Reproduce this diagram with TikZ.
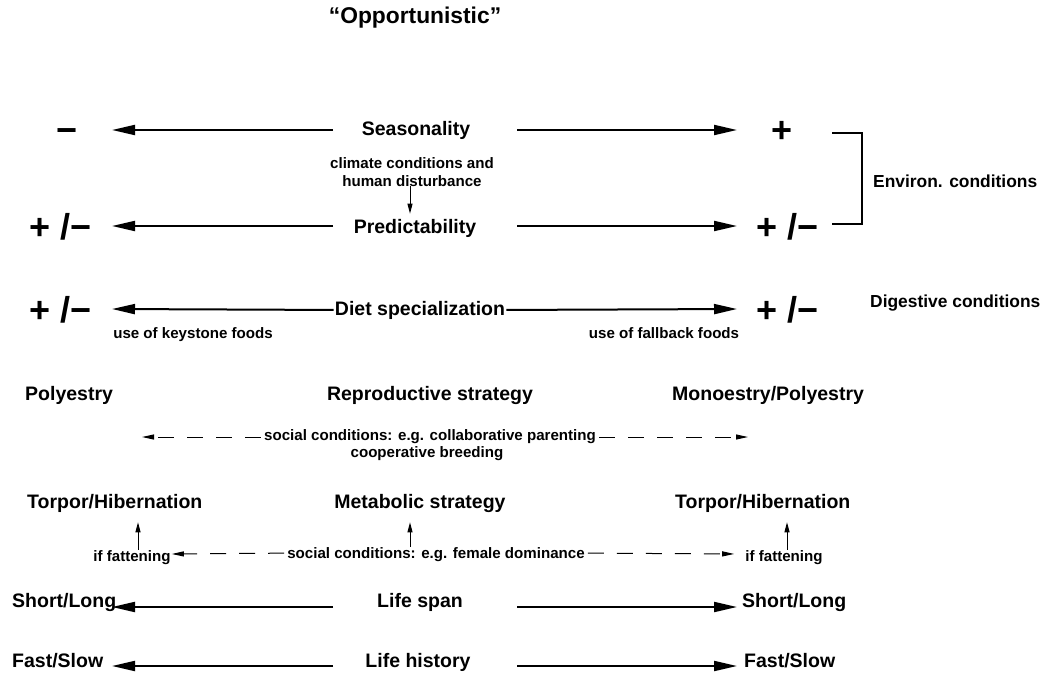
\documentclass[tikz,border=0pt]{standalone}
\usepackage{fontspec}
\setmainfont{Liberation Sans}
\usetikzlibrary{arrows.meta}
\newcommand{\mns}{\symbol{"2212}}
\tikzstyle{labels}=[%
	x = 1pt, y = -1pt,
	every node/.style = {inner sep=0pt, anchor=base},
	main/.style = {font=\fontsize{19.5}{22}\selectfont\bfseries},
	small/.style = {font=\fontsize{15.1}{17}\selectfont\bfseries, inner xsep=3pt},
	side/.style = {font=\fontsize{17.4}{20}\selectfont\bfseries, anchor=base west},
	sign/.style = {font=\fontsize{36}{40}\selectfont\bfseries},
	bigarrow/.style = {line width=2pt, -{Triangle[length=23pt,width=10pt]}},
	smallarrow/.style = {line width=1pt, -{Triangle[length=10pt,width=5pt]}},
	dasharrow/.style = {line width=1pt, dash pattern=on 16pt off 13pt, -{Triangle[length=12pt,width=5pt]}}
]

\begin{document}
\begin{tikzpicture}[labels]
	\useasboundingbox (0,0) rectangle (1059,677);

	% Title
	\node[font=\fontsize{22.8}{26}\selectfont\bfseries] (title) at (415,24) {``Opportunistic''};

	% % Middle column
	\node[main] (seas) at (416,135) {Seasonality};
	\node[main] (pred) at (415,233) {Predictability};
	\node[main, inner xsep=1pt] (diet) at (420,315) {Diet specialization};
	\node[main] (repr) at (430,400) {Reproductive strategy};
	\node[main] (meta) at (420,508) {Metabolic strategy};
	\node[main] (span) at (420,607) {Life span};
	\node[main] (hist) at (418,667) {Life history};

	% % Left column
	\node[sign] (seasL) at (67,142) {\mns};
	\node[sign] (predL) at (61,239) {+ /\mns};
	\node[sign] (dietL) at (61,322) {+ /\mns};
	\node[main, anchor=base west] (reprL) at (25,400) {Polyestry};
	\node[main, anchor=base west] (metaL) at (27,508) {Torpor/Hibernation};
	\node[main, anchor=base west] (spanL) at (12,607) {Short/Long};
	\node[main, anchor=base west] (histL) at (12,667) {Fast/Slow};

	% % Right column
	\node[sign] (seasR) at (782,142) {+};
	\node[sign] (predR) at (788,239) {+ /\mns};
	\node[sign] (dietR) at (788,322) {+ /\mns};
	\node[main, anchor=base west] (reprR) at (672,400) {Monoestry/Polyestry};
	\node[main, anchor=base west] (metaR) at (675,508) {Torpor/Hibernation};
	\node[main, anchor=base west] (spanR) at (742,607) {Short/Long};
	\node[main, anchor=base west] (histR) at (744,667) {Fast/Slow};

	% % Conditions
	\node[side] (envi) at (873,187) {Environ. conditions};
	\node[side] (dige) at (870,307) {Digestive conditions};
	\node[small] (clim) at (412,168) {climate conditions and};
	\node[small] (human) at (412,186) {human disturbance};
	\node[small] (keys) at (193,338) {use of keystone foods};
	\node[small] (fall) at (664,338) {use of fallback foods};
	\node[small] (soc1) at (430,440) {social conditions: e.g. collaborative parenting};
	\node[small] (coop) at (427,457) {cooperative breeding};
	\node[small] (soc2) at (436,558) {social conditions: e.g. female dominance};
	\node[small, inner xsep=1pt] (fatL) at (132,561) {if fattening};
	\node[small] (fatR) at (784,561) {if fattening};

	% % Arrows
	\foreach \n/\y in {seas/130, pred/226, diet/309, span/607, hist/666} {
		\coordinate (\n-ls) at (333,\y);
		\coordinate (\n-lt) at (112,\y);
		\coordinate (\n-rs) at (517,\y);
		\coordinate (\n-rt) at (737,\y);
	}
	\foreach \n in {seas, pred, span, hist} {
		\draw[bigarrow] (\n-ls) -- (\n-lt);
		\draw[bigarrow] (\n-rs) -- (\n-rt);
	}
	\draw[bigarrow] (diet.west) -- (diet-lt);
	\draw[bigarrow] (diet.east) -- (diet-rt);

	% % Small arrows
	\draw[smallarrow, shorten >=5pt] ([xshift=-2pt]human.south) -- ([xshift=-2pt]human.south |- pred.north);
	\draw[smallarrow, shorten >=10pt] ([xshift=6pt]fatL.north) -- ([xshift=6pt]fatL.north |- metaL.south);
	\draw[smallarrow, shorten >=10pt] ([xshift=-26pt]soc2.north) -- ([xshift=-26pt]soc2.north |- meta.south);
	\draw[smallarrow, shorten >=10pt] ([xshift=3pt]fatR.north) -- ([xshift=3pt]fatR.north |- metaR.south);

	% % Dashed arrows
	\coordinate (soc1-lt) at (142,437);
	\coordinate (soc1-rt) at (748,437);
	\draw[dasharrow] (soc1.west |- soc1-lt) -- (soc1-lt);
	\draw[dasharrow] (soc1.east |- soc1-rt) -- (soc1-rt);
	\draw[dasharrow] (soc2.west) ++(0,-1) -- (fatL.east |- 0,554);
	\draw[dasharrow, shorten >=8pt] (soc2.east) ++(0,-1) -- (fatR.west |- 0,554);

	% % Bracket
	\draw[line width=1.5pt] (832,133) -| (862,224) -- (832,224);

\end{tikzpicture}
\end{document}
